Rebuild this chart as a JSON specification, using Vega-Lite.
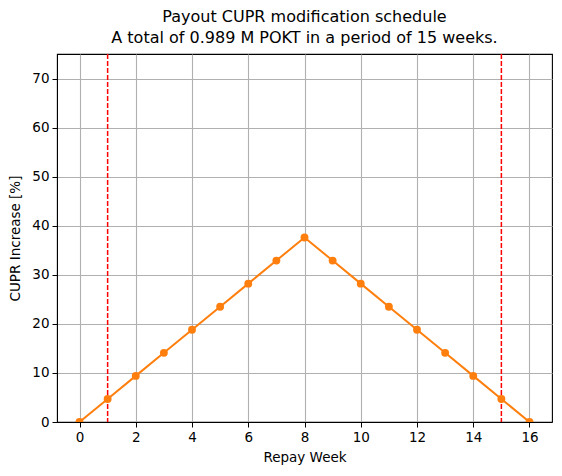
{
  "$schema": "https://vega.github.io/schema/vega-lite/v6.json",
  "autosize": "none",
  "width": 495,
  "height": 368,
  "padding": {"left": 57, "top": 54, "right": 10, "bottom": 54},
  "title": {
    "text": ["Payout CUPR modification schedule", "A total of 0.989 M POKT in a period of 15 weeks."],
    "font": "DejaVu Sans",
    "fontSize": 16,
    "fontWeight": "normal",
    "color": "black",
    "anchor": "middle",
    "lineHeight": 21,
    "offset": 7
  },
  "config": {
    "view": {"stroke": "black", "strokeWidth": 1.1},
    "axis": {
      "labelFont": "DejaVu Sans",
      "labelFontSize": 13.5,
      "labelColor": "black",
      "titleFont": "DejaVu Sans",
      "titleFontSize": 13.5,
      "titleFontWeight": "normal",
      "titleColor": "black",
      "domainColor": "black",
      "tickColor": "black",
      "tickSize": 5,
      "tickWidth": 1,
      "gridColor": "#b0b0b0",
      "gridWidth": 1.1,
      "gridOpacity": 1,
      "labelPadding": 3
    }
  },
  "datasets": {
    "schedule": [
      {"week": 0, "increase": 0},
      {"week": 1, "increase": 4.7},
      {"week": 2, "increase": 9.4},
      {"week": 3, "increase": 14.1},
      {"week": 4, "increase": 18.8},
      {"week": 5, "increase": 23.5},
      {"week": 6, "increase": 28.2},
      {"week": 7, "increase": 32.9},
      {"week": 8, "increase": 37.6},
      {"week": 9, "increase": 32.9},
      {"week": 10, "increase": 28.2},
      {"week": 11, "increase": 23.5},
      {"week": 12, "increase": 18.8},
      {"week": 13, "increase": 14.1},
      {"week": 14, "increase": 9.4},
      {"week": 15, "increase": 4.7},
      {"week": 16, "increase": 0}
    ],
    "limits": [
      {"week": 1},
      {"week": 15}
    ]
  },
  "layer": [
    {
      "data": {"name": "limits"},
      "mark": {"type": "rule", "stroke": "#ff0000", "strokeWidth": 1.5, "strokeDash": [5, 2], "strokeOpacity": 1},
      "encoding": {
        "x": {
          "field": "week",
          "type": "quantitative",
          "scale": {"domain": [-0.8, 16.8], "nice": false, "zero": false},
          "axis": {"values": [0, 2, 4, 6, 8, 10, 12, 14, 16], "title": "Repay Week", "titlePadding": 7}
        }
      }
    },
    {
      "data": {"name": "schedule"},
      "mark": {"type": "line", "color": "#ff7f0e", "strokeWidth": 2, "clip": true},
      "encoding": {
        "x": {"field": "week", "type": "quantitative"},
        "y": {
          "field": "increase",
          "type": "quantitative",
          "scale": {"domain": [0, 75], "nice": false},
          "axis": {"values": [0, 10, 20, 30, 40, 50, 60, 70], "title": "CUPR Increase [%]", "titlePadding": 9}
        }
      }
    },
    {
      "data": {"name": "schedule"},
      "mark": {"type": "point", "filled": true, "color": "#ff7f0e", "size": 62, "opacity": 1, "clip": true},
      "encoding": {
        "x": {"field": "week", "type": "quantitative"},
        "y": {"field": "increase", "type": "quantitative"}
      }
    }
  ]
}
